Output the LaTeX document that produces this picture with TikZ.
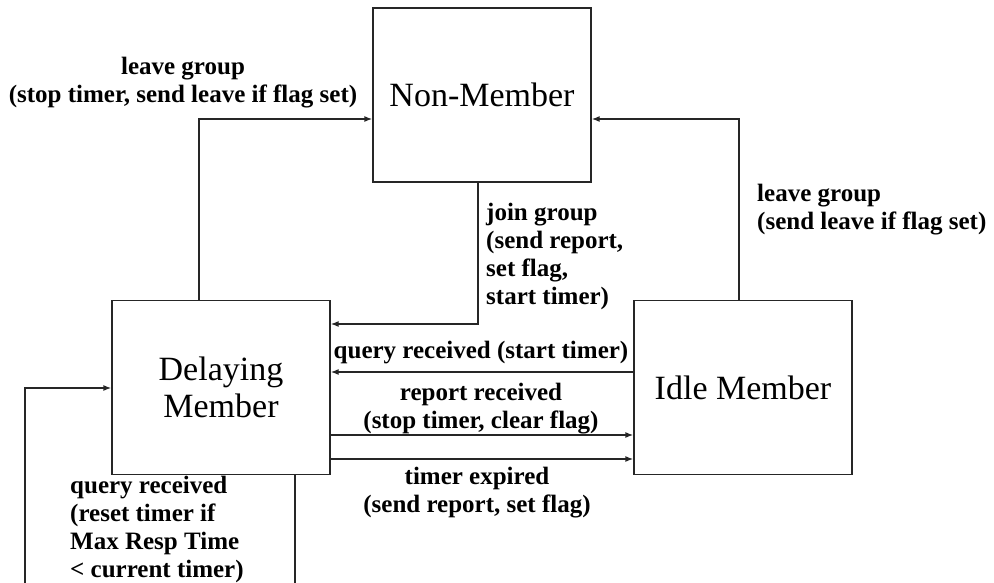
\documentclass[tikz,border=0pt]{standalone}
\usepackage{fontspec}
\setmainfont{Liberation Serif}
\usetikzlibrary{arrows.meta}
\begin{document}
\begin{tikzpicture}[x=1pt,y=-1pt,
  state/.style={draw=black!85,line width=1.3pt,minimum width=218pt,minimum height=174pt,
    align=center,inner sep=0pt,font=\fontsize{34}{37}\selectfont},
  link/.style={draw=black!85,line width=1.3pt,-{Latex[length=8pt,width=6pt]}},
  lbl/.style={inner sep=0pt,font=\bfseries\fontsize{25}{28}\selectfont},
]
\useasboundingbox (0,0) rectangle (994,583);

% states
\node[state] (nm) at (482,95) {Non-Member};
\node[state] (dm) at (221,387.5) {Delaying\\Member};
\node[state] (im) at (743,387.5) {Idle Member};

% bend points of the connectors
\coordinate (dl) at (199,119);
\coordinate (il) at (739,119);
\coordinate (jg) at (478,324);
\coordinate (qr) at (0,372);
\coordinate (rr) at (0,435);
\coordinate (te) at (0,459);
\coordinate (lb) at (295,592);
\coordinate (lc) at (25,388);

% transitions
\draw[link] (dm.north -| dl) |- (nm.west |- dl);
\draw[link] (im.north -| il) |- (nm.east |- il);
\draw[link] (nm.south -| jg) |- (dm.east |- jg);
\draw[link] (im.west |- qr) -- (dm.east |- qr);
\draw[link] (dm.east |- rr) -- (im.west |- rr);
\draw[link] (dm.east |- te) -- (im.west |- te);
\draw[link] (dm.south -| lb) -- (lb) -| (lc) -- (dm.west |- lc);

% transition labels
\node[lbl,align=center] (t1) at (183,83) {leave group\\(stop timer, send leave if flag set)};
\node[lbl,align=left,anchor=west] (t2) at (486,256) {join group\\(send report,\\set flag,\\start timer)};
\node[lbl,align=left,anchor=west] (t3) at (757,210) {leave group\\(send leave if flag set)};
\node[lbl] (t4) at (481,353) {query received (start timer)};
\node[lbl,align=center] (t5) at (481,409) {report received\\(stop timer, clear flag)};
\node[lbl,align=center] (t6) at (477,493) {timer expired\\(send report, set flag)};
\node[lbl,align=left,anchor=west] (t7) at (70,529) {query received\\(reset timer if\\Max Resp Time\\< current timer)};
\end{tikzpicture}
\end{document}
